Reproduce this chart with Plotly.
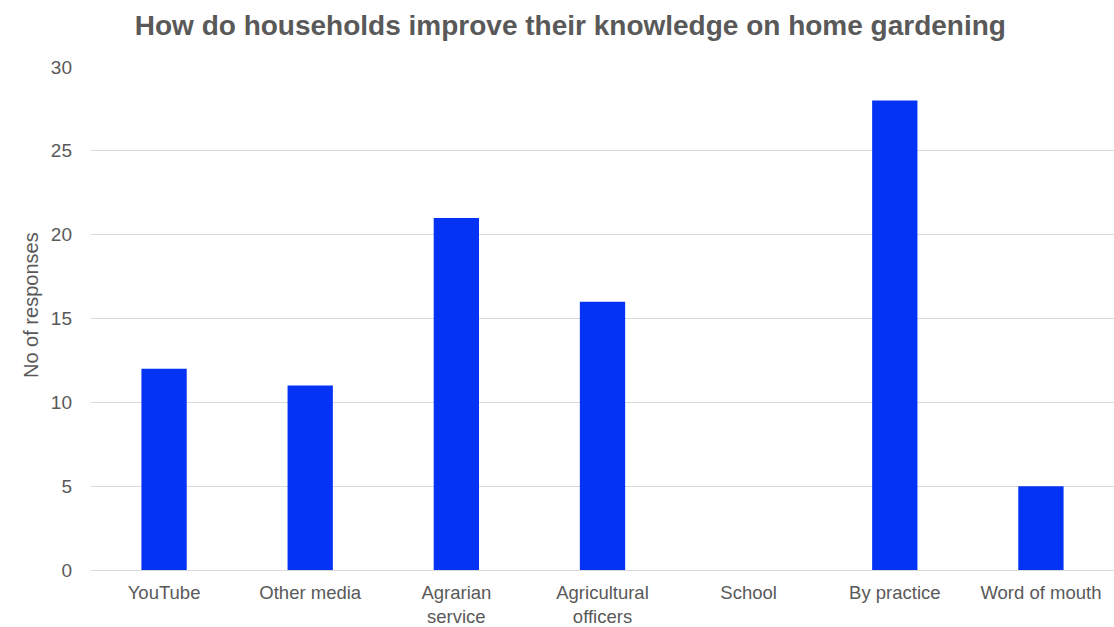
import plotly.graph_objects as go

categories = ["YouTube", "Other media", "Agrarian<br>service", "Agricultural<br>officers",
              "School", "By practice", "Word of mouth"]
responses = [12, 11, 21, 16, 0, 28, 5]
y_ticks = [0, 5, 10, 15, 20, 25, 30]

fig = go.Figure(go.Bar(
    x=categories, y=responses,
    marker=dict(color="#0433F5", line=dict(width=0)),
))

font = "Liberation Sans, Arial, sans-serif"
W, H = 1114, 627
ml, mr, mt, mb = 91, 0, 67, 57
pw, ph = W - ml - mr, H - mt - mb

fig.update_layout(
    width=W, height=H,
    margin=dict(l=ml, r=mr, t=mt, b=mb, autoexpand=False),
    paper_bgcolor="white", plot_bgcolor="white",
    bargap=0.69,
    showlegend=False,
    title=dict(text="<b>How do households improve their knowledge on home gardening</b>",
               x=0.512, xanchor="center", y=0.96, yanchor="middle",
               font=dict(family=font, size=28, color="#595959")),
    font=dict(family=font, color="#595959"),
    annotations=[dict(text="No of responses", x=(18 - ml) / pw, y=(H - 305 - mb) / ph,
                      xref="paper", yref="paper", showarrow=False, textangle=-90,
                      font=dict(family=font, size=20, color="#595959"))],
)
fig.update_xaxes(
    showgrid=False, showline=False, ticks="", automargin=False, ticklabelstandoff=9,
    tickfont=dict(family=font, size=18.5, color="#595959"),
)
fig.update_yaxes(
    range=[0, 30], tickvals=y_ticks, showgrid=True, gridcolor="#d9d9d9", gridwidth=1,
    zeroline=True, zerolinecolor="#d9d9d9", zerolinewidth=1, showline=False,
    ticks="", ticklabelstandoff=18, automargin=False,
    tickfont=dict(family=font, size=19, color="#595959"),
)
fig.write_html("out.html")
